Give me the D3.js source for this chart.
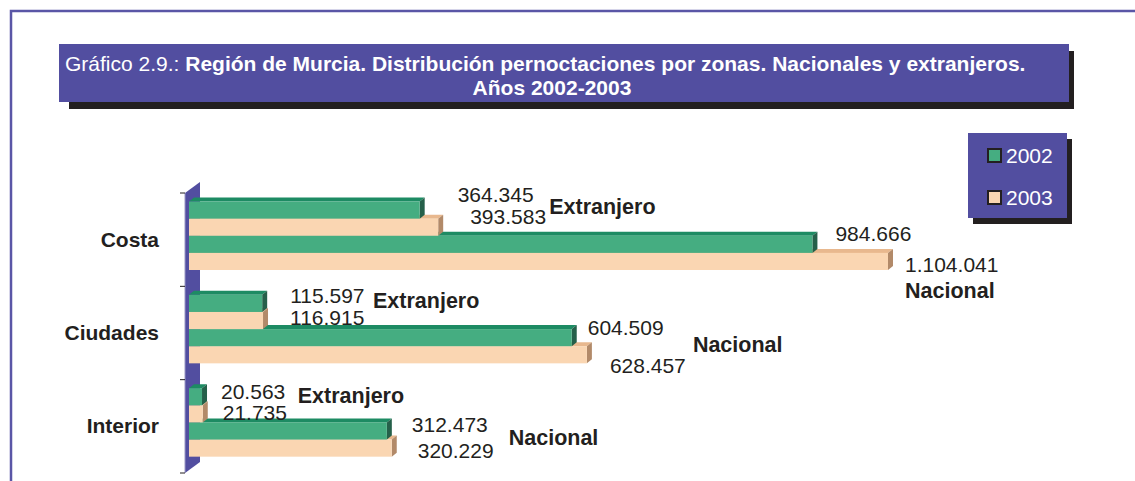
<!DOCTYPE html>
<html>
<head>
<meta charset="utf-8">
<script src="https://cdn.jsdelivr.net/npm/d3@7"></script>
<style>
  body { margin: 0; background: #fff; }
  text { font-family: "Liberation Sans", Arial, sans-serif; }
</style>
</head>
<body>
<div id="chart"></div>
<script>
// data
const categories = ["Costa", "Ciudades", "Interior"];
const years = ["2002", "2003"];
const extranjero2002 = [364345, 115597, 20563];
const extranjero2003 = [393583, 116915, 21735];
const nacional2002 = [984666, 604509, 312473];
const nacional2003 = [1104041, 628457, 320229];
const groupNames = ["Extranjero", "Nacional"];

// the four bars of each zone, top to bottom
const rows = [
  { group: 0, year: 0, values: extranjero2002 },
  { group: 0, year: 1, values: extranjero2003 },
  { group: 1, year: 0, values: nacional2002 },
  { group: 1, year: 1, values: nacional2003 }
];

// hand placed labels in the original, [dx, dy] from bar end / centre
const labelNudge = [
  [[38, -8], [32, -3], [23, -3], [17, 11]],
  [[28, 0], [27, 4], [16, -3], [23, 18]],
  [[19, 2], [20, 6], [25, 1], [26, 10]]
];
// group label nudges [dx from longest bar of group, baseline from band top]
const groupNudge = [
  [[111, 21], [17, 105]],
  [[110, 22], [106, 66]],
  [[95, 23], [117, 65]]
];

const W = 1135, H = 481;
const fmt = d3.formatLocale({ decimal: ",", thousands: ".", grouping: [3], currency: ["", "€"] }).format(",d");

const colors = [
  { front: "#45ad81", top: "#1d8b63", side: "#25604a" },
  { front: "#fad6b2", top: "#e8b88e", side: "#b28a69" }
];
const purple = "#524ea0";
const ink = "#231f20";

const svg = d3.select("#chart").append("svg")
  .attr("width", W)
  .attr("height", H);

// outer frame
svg.append("path")
  .attr("d", "M11,481 L11,11 L1135,11")
  .attr("fill", "none")
  .attr("stroke", "#5a56a6")
  .attr("stroke-width", 2.5);

// title box
svg.append("rect").attr("x", 69).attr("y", 51).attr("width", 1005).attr("height", 58).attr("fill", ink);
svg.append("rect").attr("x", 59).attr("y", 44).attr("width", 1010).attr("height", 58).attr("fill", purple);

const t1 = svg.append("text")
  .attr("x", 65).attr("y", 71)
  .attr("fill", "#fff")
  .style("font-size", "21px");
t1.append("tspan").text("Gráfico 2.9.: ");
t1.append("tspan").style("font-weight", "bold")
  .text("Región de Murcia. Distribución pernoctaciones por zonas. Nacionales y extranjeros.");

svg.append("text")
  .attr("x", 552).attr("y", 95)
  .attr("text-anchor", "middle")
  .attr("fill", "#fff")
  .style("font-size", "21px")
  .style("font-weight", "bold")
  .text("Años 2002-2003");

// scales
const x = d3.scaleLinear().domain([0, 1104041]).range([189, 888]);
const y = d3.scaleBand().domain(categories).range([193, 473]);
const yInner = d3.scaleBand().domain(d3.range(rows.length)).range([8.5, 77]);
const depthX = 5, depthY = 4;
const wallW = 15, wallH = 11;

// wall of the category axis
svg.append("polygon")
  .attr("points", [[185, y.range()[0]], [185 + wallW, y.range()[0] - wallH],
                   [185 + wallW, y.range()[1] - wallH], [185, y.range()[1]]].join(" "))
  .attr("fill", purple);
svg.append("line")
  .attr("x1", 185).attr("x2", 185)
  .attr("y1", y.range()[0]).attr("y2", y.range()[1])
  .attr("stroke", "#9a98c4").attr("stroke-width", 1);

// tick marks between zones
const ticks = categories.map(c => y(c)).concat([y.range()[1]]);
svg.selectAll(".tick").data(ticks).enter().append("line")
  .attr("x1", 180).attr("x2", 185)
  .attr("y1", d => d).attr("y2", d => d)
  .attr("stroke", ink).attr("stroke-width", 1);

// category labels
svg.selectAll(".cat").data(categories).enter().append("text")
  .attr("x", 159)
  .attr("y", d => y(d) + y.bandwidth() / 2 + 7)
  .attr("text-anchor", "end")
  .attr("fill", ink)
  .style("font-size", "21px")
  .style("font-weight", "bold")
  .text(d => d);

// 3d bars, drawn from the bottom row up so upper bars cover top faces
categories.forEach((cat, ci) => {
  const g = svg.append("g");
  rows.slice().reverse().forEach(row => {
    const ri = rows.indexOf(row);
    const v = row.values[ci];
    const c = colors[row.year];
    const x0 = x(0), x1 = x(v);
    const y0 = y(cat) + yInner(ri), h = yInner.bandwidth();
    g.append("polygon")
      .attr("points", [[x0, y0], [x0 + depthX, y0 - depthY], [x1 + depthX, y0 - depthY], [x1, y0]].join(" "))
      .attr("fill", c.top);
    g.append("polygon")
      .attr("points", [[x1, y0], [x1 + depthX, y0 - depthY], [x1 + depthX, y0 + h - depthY], [x1, y0 + h]].join(" "))
      .attr("fill", c.side);
    g.append("rect")
      .attr("x", x0).attr("y", y0)
      .attr("width", x1 - x0).attr("height", h)
      .attr("fill", c.front);
  });

  // value labels
  rows.forEach((row, ri) => {
    const v = row.values[ci];
    const n = labelNudge[ci][ri];
    svg.append("text")
      .attr("x", x(v) + n[0])
      .attr("y", y(cat) + yInner(ri) + yInner.bandwidth() / 2 + n[1])
      .attr("fill", ink)
      .style("font-size", "21px")
      .text(fmt(v));
  });

  // group labels
  groupNames.forEach((name, gi) => {
    const maxV = d3.max(rows.filter(r => r.group === gi), r => r.values[ci]);
    const n = groupNudge[ci][gi];
    svg.append("text")
      .attr("x", x(maxV) + n[0])
      .attr("y", y(cat) + n[1])
      .attr("fill", ink)
      .style("font-size", "21.5px")
      .style("font-weight", "bold")
      .text(name);
  });
});

// legend
const lg = svg.append("g").attr("transform", "translate(968,133)");
lg.append("rect").attr("x", 5).attr("y", 6).attr("width", 99).attr("height", 85).attr("fill", ink);
lg.append("rect").attr("width", 99).attr("height", 85).attr("fill", purple);
const item = lg.selectAll(".item").data(years).enter().append("g")
  .attr("transform", (d, i) => `translate(20,${16 + i * 42})`);
item.append("rect")
  .attr("width", 13).attr("height", 13)
  .attr("fill", (d, i) => colors[i].front)
  .attr("stroke", ink).attr("stroke-width", 2);
item.append("text")
  .attr("x", 18).attr("y", 14)
  .attr("fill", "#fff")
  .style("font-size", "21px")
  .text(d => d);
</script>
</body>
</html>
